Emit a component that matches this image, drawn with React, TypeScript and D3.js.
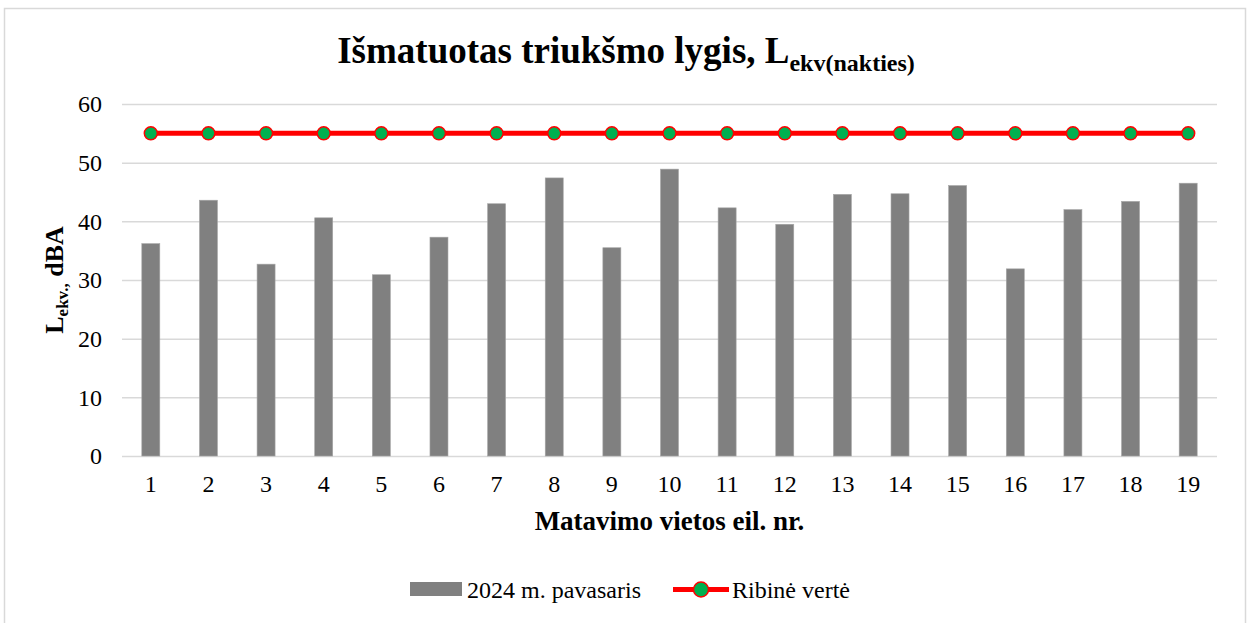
import { useEffect, useRef } from 'react'
import * as d3 from 'd3'

const categories = ['1', '2', '3', '4', '5', '6', '7', '8', '9', '10', '11', '12', '13', '14', '15', '16', '17', '18', '19']
const measured = [36.2, 43.6, 32.7, 40.6, 30.9, 37.3, 43.0, 47.4, 35.5, 48.9, 42.3, 39.5, 44.6, 44.7, 46.1, 31.9, 42.0, 43.4, 46.5]
const limitValues = [55, 55, 55, 55, 55, 55, 55, 55, 55, 55, 55, 55, 55, 55, 55, 55, 55, 55, 55]
const yTicks = [0, 10, 20, 30, 40, 50, 60]

const seriesNames = ['2024 m. pavasaris', 'Ribinė vertė']

export default function App() {
  const svgRef = useRef<SVGSVGElement | null>(null)
  const width = 1252
  const height = 623

  useEffect(() => {
    if (!svgRef.current) return
    const svg = d3.select(svgRef.current)
    svg.selectAll('*').remove()

    const font = '"Liberation Serif", "Times New Roman", serif'
    const margin = { top: 104, right: 35, bottom: 167, left: 122 }
    const innerW = width - margin.left - margin.right
    const innerH = height - margin.top - margin.bottom

    svg.append('rect')
      .attr('width', width).attr('height', height).attr('fill', '#fff')

    // chart border
    svg.append('rect')
      .attr('x', 4.5).attr('y', 8.5)
      .attr('width', 1241).attr('height', 640)
      .attr('fill', 'none').attr('stroke', '#d9d9d9').attr('stroke-width', 1.5)

    const g = svg.append('g').attr('transform', `translate(${margin.left},${margin.top})`)

    const x = d3.scaleBand().domain(categories).range([0, innerW]).paddingInner(0.6875).paddingOuter(0.34375)
    const y = d3.scaleLinear().domain([0, 60]).range([innerH, 0])

    // Grid
    g.append('g')
      .call(d3.axisLeft(y).tickValues(yTicks).tickSize(-innerW).tickFormat(() => ''))
      .call(s => s.select('.domain').remove())
      .selectAll('line').attr('stroke', '#d9d9d9').attr('stroke-width', 1.5)

    // Y tick labels
    g.append('g')
      .call(d3.axisLeft(y).tickValues(yTicks).tickSize(0).tickPadding(20))
      .call(s => s.select('.domain').remove())
      .selectAll('text')
      .attr('fill', '#000').attr('font-size', 24).attr('font-family', font)

    // X tick labels
    g.append('g')
      .attr('transform', `translate(0,${innerH})`)
      .call(d3.axisBottom(x).tickSize(0).tickPadding(19))
      .call(s => s.select('.domain').remove())
      .selectAll('text')
      .attr('fill', '#000').attr('font-size', 24).attr('font-family', font)

    // Bars
    g.selectAll('.bar')
      .data(measured)
      .join('rect')
      .attr('x', (_, i) => x(categories[i])!)
      .attr('y', d => y(d))
      .attr('width', x.bandwidth())
      .attr('height', d => innerH - y(d))
      .attr('fill', '#808080')
      .attr('stroke', '#a6a6a6').attr('stroke-width', 0.6)

    // Limit line
    const cx = (i: number) => x(categories[i])! + x.bandwidth() / 2
    const line = d3.line<number>().x((_, i) => cx(i)).y(d => y(d))
    g.append('path')
      .datum(limitValues)
      .attr('d', line)
      .attr('fill', 'none').attr('stroke', '#ff0000').attr('stroke-width', 5)

    g.selectAll('.dot')
      .data(limitValues)
      .join('circle')
      .attr('cx', (_, i) => cx(i))
      .attr('cy', d => y(d))
      .attr('r', 6.5)
      .attr('fill', '#00b050').attr('stroke', '#ff0000').attr('stroke-width', 1.5)

    // Title
    const title = svg.append('text')
      .attr('x', 626).attr('y', 63)
      .attr('text-anchor', 'middle')
      .attr('font-family', font).attr('font-weight', 'bold').attr('font-size', 37)
    title.append('tspan').text('Išmatuotas triukšmo lygis, L')
    title.append('tspan').attr('font-size', 24).attr('dy', 8).text('ekv(nakties)')

    // X axis title
    svg.append('text')
      .attr('x', margin.left + innerW / 2).attr('y', 530)
      .attr('text-anchor', 'middle')
      .attr('font-family', font).attr('font-weight', 'bold').attr('font-size', 27)
      .text('Matavimo vietos eil. nr.')

    // Y axis title
    const yt = svg.append('text')
      .attr('transform', `translate(63,${margin.top + innerH / 2}) rotate(-90)`)
      .attr('text-anchor', 'middle')
      .attr('font-family', font).attr('font-weight', 'bold').attr('font-size', 26)
    yt.append('tspan').text('L')
    yt.append('tspan').attr('font-size', 17).attr('dy', 5).text('ekv.,')
    yt.append('tspan').attr('dy', -5).text(' dBA')

    // Legend
    const lg = svg.append('g')
    lg.append('rect')
      .attr('x', 410).attr('y', 582).attr('width', 52).attr('height', 14)
      .attr('fill', '#808080')
    lg.append('text')
      .attr('x', 467).attr('y', 597.5)
      .attr('font-family', font).attr('font-size', 24)
      .text(seriesNames[0])
    lg.append('line')
      .attr('x1', 673).attr('x2', 729).attr('y1', 589.5).attr('y2', 589.5)
      .attr('stroke', '#ff0000').attr('stroke-width', 5)
    lg.append('circle')
      .attr('cx', 701).attr('cy', 589.5).attr('r', 7.5)
      .attr('fill', '#00b050').attr('stroke', '#ff0000').attr('stroke-width', 1.5)
    lg.append('text')
      .attr('x', 732).attr('y', 597.5)
      .attr('font-family', font).attr('font-size', 24)
      .text(seriesNames[1])
  }, [])

  return (
    <svg
      ref={svgRef}
      width={width}
      height={height}
      style={{ position: 'absolute', left: 0, top: 0, display: 'block' }}
    />
  )
}
